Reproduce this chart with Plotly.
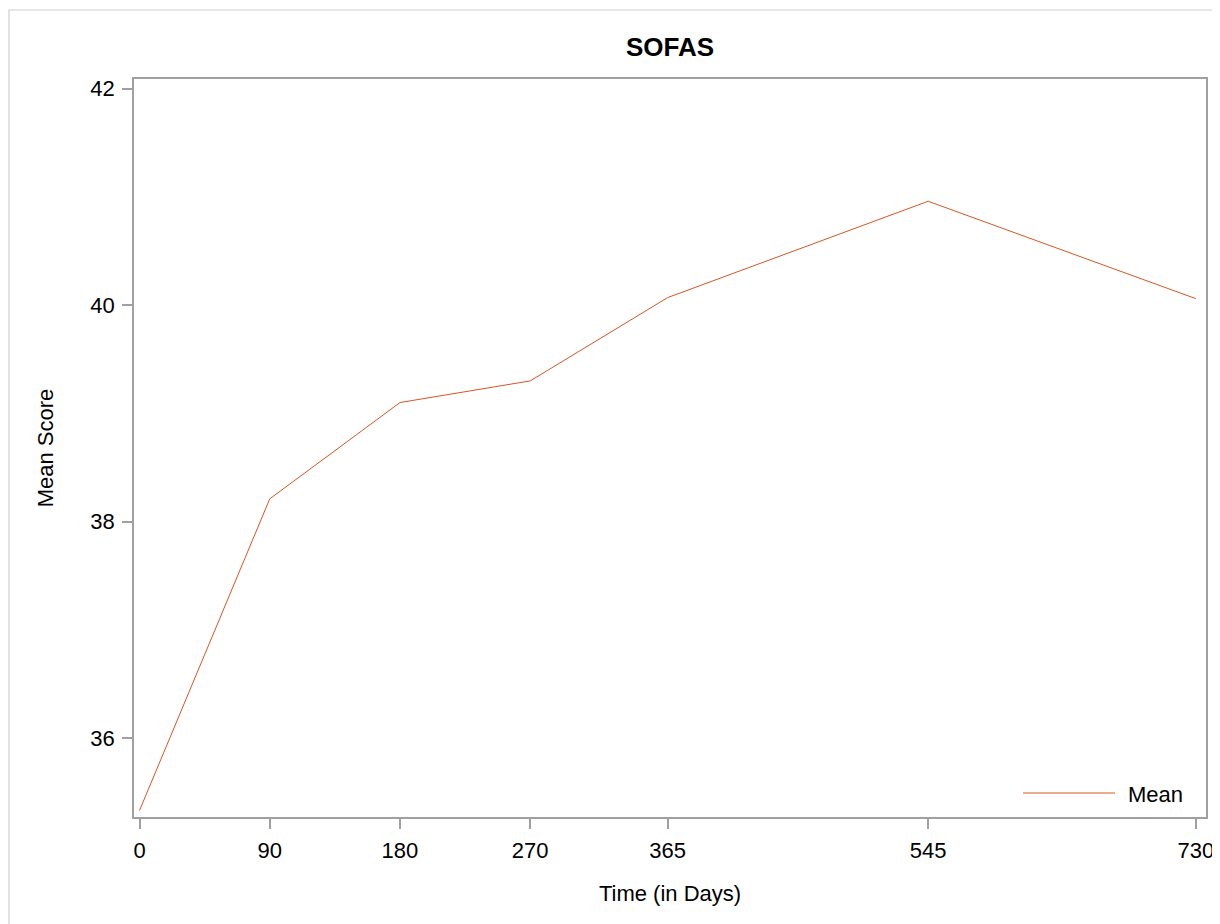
import plotly.graph_objects as go

days = [0, 90, 180, 270, 365, 545, 730]
mean_score = [35.33, 38.21, 39.1, 39.3, 40.07, 40.96, 40.06]
x_ticks = [0, 90, 180, 270, 365, 545, 730]
y_ticks = [36, 38, 40, 42]
series_name = "Mean"

LINE_COLOR = "#D9561F"
AXIS_COLOR = "#A0A0A0"
FONT = "Liberation Sans, Arial, sans-serif"

# page body adds an 8px offset; work in figure coords (screen - 8)
OFF = 8
W, H = 1220 - OFF, 924 - OFF
L, R, T = 134 - OFF, 1220 - 1206, 79 - OFF
B = H - (817 - OFF)
pw, ph = W - L - R, H - T - B


def px(xs):
    return (xs - OFF - L) / pw


def py(ys):
    return 1 - (ys - OFF - T) / ph


fig = go.Figure()
fig.add_trace(go.Scatter(x=days, y=mean_score, mode="lines", name=series_name,
                         line=dict(color=LINE_COLOR, width=1), showlegend=False))

fig.update_layout(
    width=W, height=H,
    margin=dict(l=L, r=R, t=T, b=B, autoexpand=False),
    paper_bgcolor="white", plot_bgcolor="white",
    font=dict(family=FONT, size=22, color="black"),
    title=dict(text="<b>SOFAS</b>", xref="container", x=(670 - OFF) / W, xanchor="center",
               yref="container", y=1 - (47 - OFF) / H, yanchor="middle", font=dict(size=26)),
    showlegend=False,
    xaxis=dict(range=[-3.8, 737], tickvals=x_ticks, ticktext=[str(v) for v in x_ticks],
               showgrid=False, zeroline=False, showline=True, mirror=True,
               linecolor=AXIS_COLOR, linewidth=1.5, ticks="outside", ticklen=10,
               tickcolor=AXIS_COLOR, tickwidth=1.5, tickfont=dict(size=22),
               ticklabelstandoff=3, automargin=False,
               title=dict(text="Time (in Days)", standoff=23, font=dict(size=22))),
    yaxis=dict(range=[35.27, 42.09], tickvals=y_ticks, ticktext=[str(v) for v in y_ticks],
               showgrid=False, zeroline=False, showline=True, mirror=True,
               linecolor=AXIS_COLOR, linewidth=1.5, ticks="outside", ticklen=10,
               tickcolor=AXIS_COLOR, tickwidth=1.5, tickfont=dict(size=22),
               ticklabelstandoff=3, automargin=False,
               title=dict(text="Mean Score", standoff=31, font=dict(size=22))),
)

# legend drawn inside the plot, bottom right
fig.add_shape(type="line", xref="paper", yref="paper",
              x0=px(1023), x1=px(1115), y0=py(793), y1=py(793),
              line=dict(color=LINE_COLOR, width=1.2))
fig.add_annotation(text=series_name, xref="paper", yref="paper",
                   x=px(1126), y=py(794), xanchor="left", yanchor="middle",
                   showarrow=False, font=dict(size=22, family=FONT, color="black"))

# outer light border
fig.add_shape(type="rect", xref="paper", yref="paper",
              x0=px(9), x1=px(1240), y0=py(960), y1=py(10),
              line=dict(color="#D0D0D0", width=1.2), fillcolor="rgba(0,0,0,0)", layer="below")

fig.write_html("out.html")
